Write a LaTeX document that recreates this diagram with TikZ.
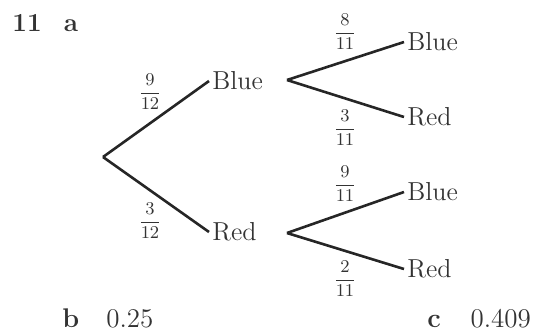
\documentclass[tikz,border=0pt]{standalone}
\usepackage{amsmath}
\begin{document}
\begin{tikzpicture}[x=0.5pt,y=-0.5pt,
  lbl/.style={anchor=west,inner sep=1.5pt,font=\fontsize{13}{15}\selectfont,text=black!80},
  prob/.style={inner sep=0pt,font=\fontsize{8.8}{10}\selectfont,text=black!80},
  br/.style={line width=1.3pt,draw=black!85},
  ans/.style={anchor=base west,inner sep=0pt,font=\fontsize{13}{15}\selectfont,text=black!80}]
\useasboundingbox (0,0) rectangle (536,334);
% title
\node[ans] (q) at (12,31) {\textbf{11}\hspace{0.85em}\textbf{a}};
% first level
\coordinate (root) at (103,157);
\node[lbl] (B1) at (209,81) {Blue};
\node[lbl] (R1) at (209,232) {Red};
\draw[br] (root) -- (B1.west);
\draw[br] (root) -- (R1.west);
\node[prob] (p1) at (150,92) {$\dfrac{9}{12}$};
\node[prob] (p2) at (150,221) {$\dfrac{3}{12}$};
% second level, upper
\coordinate (v1) at (287,80);
\node[lbl] (B2) at (404,42) {Blue};
\node[lbl] (R2) at (404,117) {Red};
\draw[br] (v1) -- (B2.west);
\draw[br] (v1) -- (R2.west);
\node[prob] (p3) at (345,32) {$\dfrac{8}{11}$};
\node[prob] (p4) at (345,128) {$\dfrac{3}{11}$};
% second level, lower
\coordinate (v2) at (287,233);
\node[lbl] (B3) at (404,192) {Blue};
\node[lbl] (R3) at (404,269) {Red};
\draw[br] (v2) -- (B3.west);
\draw[br] (v2) -- (R3.west);
\node[prob] (p5) at (345,184) {$\dfrac{9}{11}$};
\node[prob] (p6) at (345,279) {$\dfrac{2}{11}$};
% answers
\node[ans,font=\fontsize{13.5}{15}\selectfont] (b) at (62,327) {\textbf{b}\hspace{1em}0.25};
\node[ans,font=\fontsize{13.5}{15}\selectfont] (c) at (427,327) {\textbf{c}\hspace{1.1em}0.409};
\end{tikzpicture}
\end{document}
